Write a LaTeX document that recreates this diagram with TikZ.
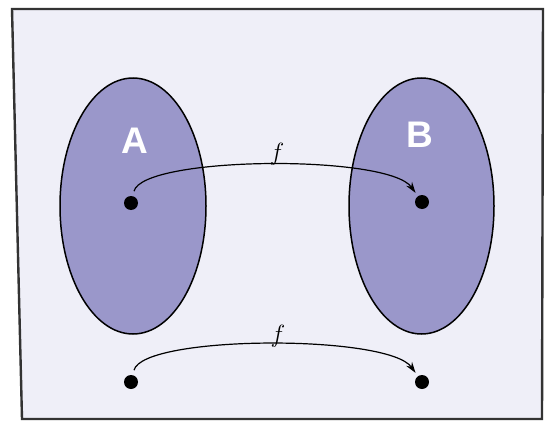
\documentclass[tikz,border=0pt]{standalone}
\usepackage{fontspec}
\usepackage{tikz}
\usetikzlibrary{arrows.meta}
\newfontfamily\setlabelfont{Liberation Sans}
\definecolor{paper}{HTML}{EFEFF8}
\definecolor{setfill}{HTML}{9A97CA}
\definecolor{rim}{HTML}{333333}

\begin{document}
\begin{tikzpicture}[
    x=1pt,
    y=-1pt,
    frame/.style={
        draw=rim,
        fill=paper,
        line width=2.4pt,
        line join=miter
    },
    set/.style={
        draw=black,
        fill=setfill,
        line width=1.5pt
    },
    setname/.style={
        text=white,
        inner sep=0pt,
        font=\setlabelfont\bfseries\fontsize{37}{37}\selectfont
    },
    point/.style={
        circle,
        fill=black,
        inner sep=0pt,
        minimum size=14pt
    },
    map/.style={
        line width=1.2pt,
        -{Stealth[length=11pt,width=7pt]},
        shorten <=5pt,
        shorten >=4pt
    },
    maplabel/.style={
        inner sep=0pt,
        font=\fontsize{32}{32}\selectfont
    }
]

\useasboundingbox (0,0) rectangle (560,431);

\filldraw[frame] (12,9) -- (543,9) -- (542,419) -- (22,419) -- cycle;


\draw[set] (133,206) ellipse [x radius=73, y radius=128];
\draw[set] (421.5,206) ellipse [x radius=72.5, y radius=128];


\node[setname] (nameA) at (135,141) {A};
\node[setname] (nameB) at (420,135) {B};


\node[point] (a1) at (131,203) {};
\node[point] (b1) at (422,202) {};
\node[point] (a2) at (131,382) {};
\node[point] (b2) at (422,382) {};


\draw[map] (a1) .. controls +(12,-47) and +(-34,-48) .. (b1);
\draw[map] (a2) .. controls +(12,-47) and +(-34,-48) .. (b2);


\node[maplabel] (f1) at (277,154) {$f$};
\node[maplabel] (f2) at (278,336) {$f$};

\end{tikzpicture}
\end{document}
